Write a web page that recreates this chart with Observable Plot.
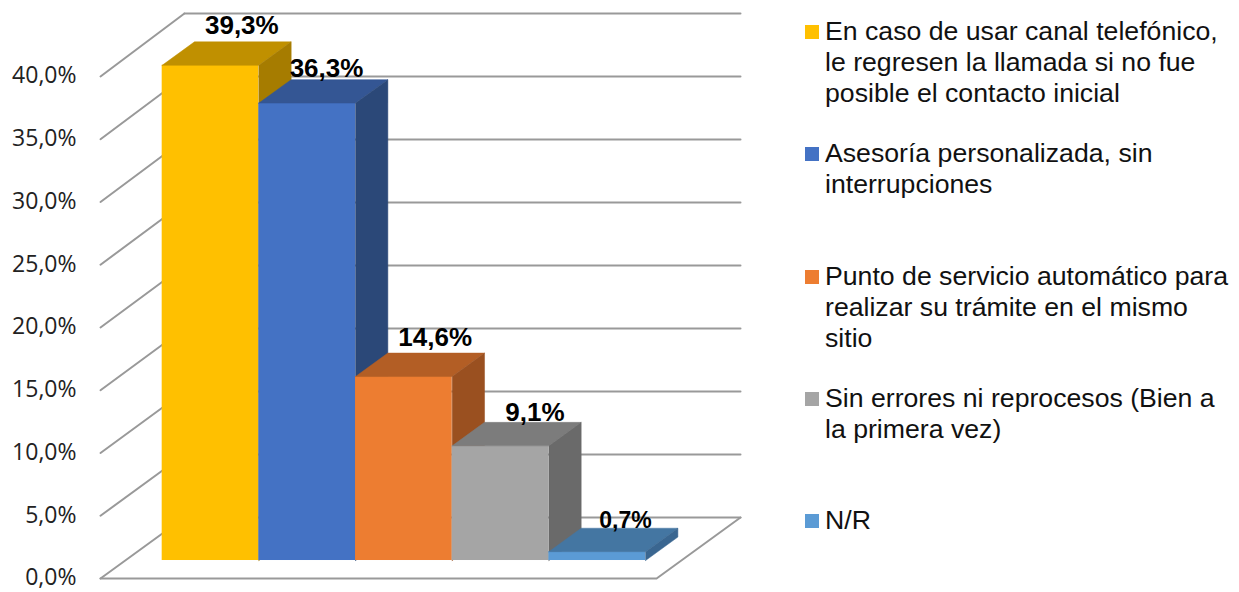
<!DOCTYPE html>
<html lang="es">
<head>
<meta charset="utf-8">
<script src="https://cdn.jsdelivr.net/npm/d3@7"></script>
<script src="https://cdn.jsdelivr.net/npm/@observablehq/plot@0.6"></script>
<style>
  html, body { margin: 0; padding: 0; background: #fff; }
  #wrap { position: relative; width: 1239px; height: 592px; overflow: hidden; font-family: "Liberation Sans", Arial, sans-serif; }
  #legend { position: absolute; left: 805px; top: 16px; width: 434px; }
  .item { height: 122.25px; position: relative; font-size: 26.67px; line-height: 31px; color: #111; white-space: pre-line; padding-left: 20px; box-sizing: border-box; }
  .item i { position: absolute; left: 0; top: 9px; width: 14px; height: 14px; display: block; }
</style>
</head>
<body>
<div id="wrap"><div id="chart"></div><div id="legend"></div></div>
<script>
const categories = [
  "En caso de usar canal telefónico,\nle regresen la llamada si no fue\nposible el contacto inicial",
  "Asesoría personalizada, sin\ninterrupciones",
  "Punto de servicio automático para\nrealizar su trámite en el mismo\nsitio",
  "Sin errores ni reprocesos (Bien a\nla primera vez)",
  "N/R"
];
const values = [39.3, 36.3, 14.6, 9.1, 0.7];
const frontColors = ["#FFC000", "#4472C4", "#ED7D31", "#A5A5A5", "#5B9BD5"];
const topColors = ["#C09000", "#345694", "#B35E25", "#7C7C7C", "#4476A2"];
const sideColors = ["#A67C00", "#2B4878", "#9A5020", "#6A6A6A", "#3A6690"];
const yTicks = [0, 5, 10, 15, 20, 25, 30, 35, 40];
const labelDx = [-1, -13, -1, 2, -4];
const labelDy = [-8, -3, -7, -1, 0];
const labelSize = [26, 26, 26, 26, 23];

// Oblique projection: depth 0 is the front edge of the floor, depth 1 the back wall.
const depthX = 0.868, depthY = 4.84, barFront = 0.295, barBack = 0.68;
const floorLeft = -0.382, floorRight = 5.37;
const frontEdgeScale = 0.996;
const pt = (c, v, d) => ({x: c + d * depthX, y: v + d * depthY});
const fmt = v => v.toFixed(1).replace(".", ",") + "%";

const grid = {stroke: "#999999", strokeWidth: 2};
const marks = [];

// back wall and left wall gridlines
for (const t of yTicks) {
  marks.push(Plot.line([pt(floorLeft, t, 1), pt(floorRight, t, 1)], {x: "x", y: "y", ...grid}));
  marks.push(Plot.line([pt(floorLeft, t * frontEdgeScale, 0), pt(floorLeft, t, 1)], {x: "x", y: "y", ...grid}));
}
// floor outline
marks.push(Plot.line([pt(floorLeft, 0, 0), pt(floorRight, 0, 0), pt(floorRight, 0, 1)], {x: "x", y: "y", ...grid}));

// bars, painted left to right
values.forEach((v, i) => {
  const a = pt(i, 0, barFront), b = pt(i + 1, v, barFront);
  marks.push(Plot.rect([{x1: a.x, x2: b.x, y1: a.y, y2: b.y}], {x1: "x1", x2: "x2", y1: "y1", y2: "y2", fill: frontColors[i]}));
  const top = [pt(i, v, barFront), pt(i + 1, v, barFront), pt(i + 1, v, barBack), pt(i, v, barBack), pt(i, v, barFront)];
  marks.push(Plot.line(top, {x: "x", y: "y", fill: topColors[i], stroke: topColors[i], strokeWidth: 0.5}));
  const side = [pt(i + 1, 0, barFront), pt(i + 1, v, barFront), pt(i + 1, v, barBack), pt(i + 1, 0, barBack), pt(i + 1, 0, barFront)];
  marks.push(Plot.line(side, {x: "x", y: "y", fill: sideColors[i], stroke: sideColors[i], strokeWidth: 0.5}));
});

// value labels
values.forEach((v, i) => {
  const p = pt(i + 0.5, v, barBack);
  marks.push(Plot.text([{...p, t: fmt(v)}], {
    x: "x", y: "y", text: "t", dx: labelDx[i], dy: labelDy[i],
    textAnchor: "middle", lineAnchor: "bottom",
    fontSize: labelSize[i], fontWeight: "bold", fill: "#000", fontFamily: "Liberation Sans"
  }));
});

// value axis labels, placed on the front ends of the left-wall gridlines
marks.push(Plot.text(yTicks, {
  x: () => floorLeft,
  y: t => t * frontEdgeScale,
  text: fmt,
  textAnchor: "end", dx: -24, dy: -0.5,
  fontSize: 23, fontFamily: "Open Sans", fill: "#222"
}));

const chart = Plot.plot({
  width: 1239, height: 592,
  marginLeft: 100, marginRight: 499, marginTop: 13, marginBottom: 14,
  style: {background: "transparent", fontFamily: "Liberation Sans", overflow: "visible"},
  x: {domain: [floorLeft, floorRight + depthX], axis: null},
  y: {domain: [0, 40 + depthY], axis: null},
  marks
});
document.getElementById("chart").appendChild(chart);

const legend = document.getElementById("legend");
categories.forEach((c, i) => {
  const row = document.createElement("div");
  row.className = "item";
  const sw = document.createElement("i");
  sw.style.background = frontColors[i];
  row.appendChild(sw);
  row.appendChild(document.createTextNode(c));
  legend.appendChild(row);
});
</script>
</body>
</html>
